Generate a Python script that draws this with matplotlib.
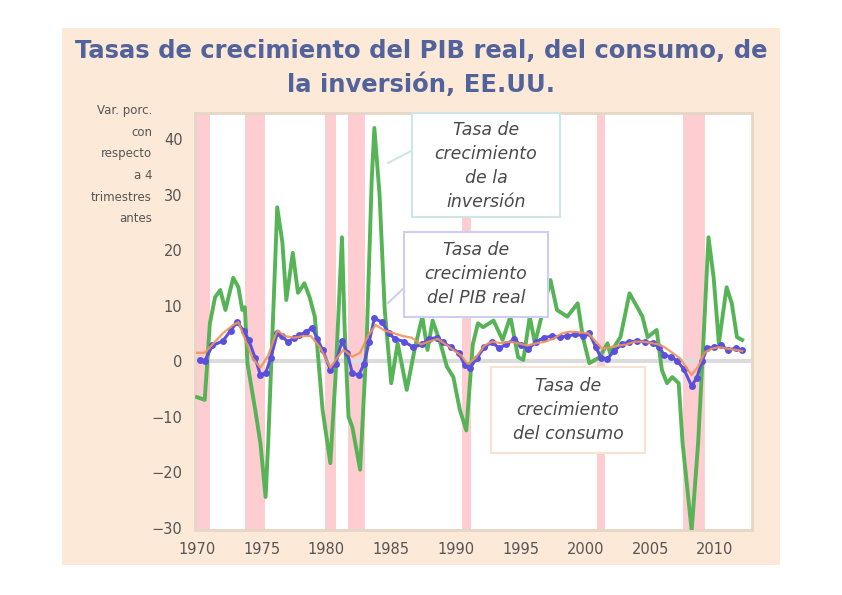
import matplotlib
matplotlib.use("Agg")
import matplotlib.pyplot as plt
from matplotlib.patches import Rectangle

# ---------------- data ----------------
recessions = [(1969.85, 1971.0), (1973.7, 1975.25), (1979.9, 1980.7),
              (1981.65, 1983.0), (1990.45, 1991.2), (2000.9, 2001.5),
              (2007.5, 2009.2)]

inv_years = [1970.0, 1970.6, 1971.0, 1971.4, 1971.8, 1972.2, 1972.8, 1973.2, 1973.5, 1973.7,
             1973.9, 1974.5, 1974.9, 1975.3, 1975.5, 1975.9, 1976.2, 1976.6, 1976.9, 1977.4,
             1977.8, 1978.3, 1978.7, 1979.1, 1979.7, 1980.3, 1980.7, 1981.2, 1981.4, 1981.7,
             1982.0, 1982.6, 1983.1, 1983.5, 1983.7, 1984.1, 1984.5, 1985.0, 1985.5, 1986.2,
             1986.8, 1987.4, 1987.8, 1988.2, 1988.8, 1989.3, 1989.8, 1990.3, 1990.8, 1991.3,
             1991.7, 1992.1, 1992.9, 1993.6, 1994.2, 1994.8, 1995.2, 1995.7, 1996.1, 1997.3,
             1997.8, 1998.6, 1999.4, 1999.8, 2000.3, 2001.1, 2001.7, 2001.9, 2002.7, 2003.4,
             2004.0, 2004.4, 2004.8, 2005.5, 2005.9, 2006.3, 2006.7, 2007.2, 2007.5, 2008.2,
             2008.7, 2009.1, 2009.5, 2009.9, 2010.3, 2010.9, 2011.3, 2011.7, 2012.1]
inv_vals = [-6.5, -7, 6.8, 11.5, 12.8, 9.2, 15, 13.3, 9.2, 9.7,
            -0.4, -8.8, -14.8, -24.5, -14.8, 9.2, 27.7, 21.3, 11, 19.5,
            12.3, 14, 11.5, 8, -8.8, -18.4, -2.9, 22.3, 6.1, -10,
            -11.9, -19.6, 3.2, 33, 42, 30, 9.2, -4, 3.2, -5.2,
            2, 8, 2, 7.3, 3.2, -1, -2.9, -8.8, -12.5, 3,
            6.8, 6.1, 7.3, 3.8, 8, 0.7, 0.2, 8, 3.2, 14.6,
            9.2, 8, 10.4, 4.3, -0.4, 0.7, 3.2, 1.4, 4.3, 12.2,
            9.7, 8, 4.3, 5.6, -1.6, -4, -2.9, -4, -14.8, -30.5,
            -14.8, 3.2, 22.3, 15, 3.2, 13.3, 10.4, 4.3, 3.8]

gdp_years = [1970.2, 1970.6, 1971.2, 1972.0, 1972.6, 1973.1, 1973.6, 1974.0, 1974.5, 1974.9,
             1975.3, 1975.7, 1976.2, 1976.6, 1977.0, 1977.5, 1977.9, 1978.4, 1978.9, 1979.3,
             1979.7, 1980.3, 1980.7, 1981.2, 1981.6, 1982.0, 1982.5, 1982.9, 1983.3, 1983.7,
             1984.3, 1984.8, 1985.3, 1986.0, 1986.7, 1987.4, 1987.9, 1988.5, 1989.0, 1989.6,
             1990.2, 1990.7, 1991.1, 1991.6, 1992.2, 1992.8, 1993.3, 1993.9, 1994.5, 1995.0,
             1995.6, 1996.2, 1996.8, 1997.4, 1998.0, 1998.6, 1999.2, 1999.8, 2000.3, 2000.8,
             2001.2, 2001.7, 2002.2, 2002.8, 2003.4, 2004.0, 2004.6, 2005.2, 2005.7, 2006.1,
             2006.6, 2007.1, 2007.6, 2008.2, 2008.6, 2009.0, 2009.4, 2009.9, 2010.5, 2011.0,
             2011.6, 2012.1]
gdp_vals = [0.2, 0, 2.8, 3.6, 5.5, 7, 5.5, 3.8, 0.5, -2.5,
            -2.2, 0.5, 5, 4.5, 3.4, 4.2, 4.7, 5.2, 6, 4,
            2, -1.6, -0.5, 3.6, 1.5, -2.2, -2.5, -0.5, 3.5, 7.7,
            7, 5, 4, 3.5, 2.5, 3, 4, 4.2, 3.4, 2.5,
            1.5, -0.8, -1.2, 0.5, 2.5, 3.5, 2.3, 3, 4, 2.8,
            2.2, 3.5, 4.2, 4.5, 4.3, 4.5, 4.8, 4.6, 5, 2.5,
            0.6, 0.4, 1.8, 3, 3.5, 3.6, 3.5, 3.2, 2.5, 1,
            0.8, 0, -1.5, -4.5, -3, 0, 2.3, 2.5, 2.8, 2,
            2.3, 2]

con_years = [1970.0, 1970.6, 1971.2, 1972.0, 1972.8, 1973.2, 1973.7, 1974.3, 1974.9, 1975.5,
             1976.2, 1976.8, 1977.5, 1978.2, 1978.8, 1979.5, 1980.3, 1980.8, 1981.3, 1982.0,
             1982.6, 1983.2, 1983.8, 1984.5, 1985.2, 1985.9, 1986.6, 1987.3, 1987.9, 1988.6,
             1989.2, 1989.8, 1990.4, 1990.9, 1991.5, 1992.2, 1992.8, 1993.5, 1994.2, 1994.8,
             1995.5, 1996.2, 1996.9, 1997.5, 1998.2, 1998.8, 1999.5, 2000.2, 2000.8, 2001.3,
             2001.9, 2002.6, 2003.2, 2003.8, 2004.4, 2005.0, 2005.6, 2006.1, 2006.7, 2007.3,
             2007.8, 2008.2, 2008.7, 2009.2, 2009.7, 2010.3, 2011.0, 2011.6, 2012.1]
con_vals = [1.5, 1.5, 3, 5, 6.5, 7, 4, 0.5, -1.2, 1,
            5.5, 4.5, 4.2, 4.5, 4.5, 2.5, -1.2, 0.5, 2, 0.8,
            1.5, 4.5, 6.5, 5.5, 5, 4.5, 4.2, 3, 3.5, 4,
            3, 2, 1, -0.5, 0.5, 2.8, 3.5, 3.2, 3.5, 3.2,
            2.8, 3.2, 3.5, 4, 5, 5.3, 5.2, 5, 3.5, 2.2,
            2.5, 2.8, 3, 3.5, 3.5, 3.3, 3, 2.5, 1.5, 0.5,
            -1.2, -2.5, -1, 1.5, 2.2, 2.5, 2.2, 2, 1.8]

x_ticks = [1970, 1975, 1980, 1985, 1990, 1995, 2000, 2005, 2010]
y_ticks = [-30, -20, -10, 0, 10, 20, 30, 40]

title_text = "Tasas de crecimiento del PIB real, del consumo, de\nla inversión, EE.UU."
ylabel_text = "Var. porc.\ncon\nrespecto\na 4\ntrimestres\nantes"
lbl_inv = "Tasa de\ncrecimiento\nde la\ninversión"
lbl_gdp = "Tasa de\ncrecimiento\ndel PIB real"
lbl_con = "Tasa de\ncrecimiento\ndel consumo"

# ---------------- figure ----------------
W, H = 842, 595
fig = plt.figure(figsize=(W / 100, H / 100), dpi=100)
fig.patch.set_facecolor("white")

def fx(x):
    return x / W

def fy(y):
    return 1 - y / H

# peach panel (behind everything)
fig.patches.append(Rectangle((fx(62), fy(565)), fx(780) - fx(62), fy(28) - fy(565),
                             transform=fig.transFigure, facecolor="#fde9d7",
                             edgecolor="none", zorder=-10))

ax = fig.add_axes([fx(195), fy(530), fx(752) - fx(195), fy(113) - fy(530)])
ax.set_zorder(1)
ax.set_facecolor("white")
for s in ax.spines.values():
    s.set_color("#e6d6c6")
    s.set_linewidth(2)

for a, b in recessions:
    ax.axvspan(a, b, color="#fdcdd1", lw=0, zorder=1)

ax.axhline(0, color="#dcdcdc", lw=3, zorder=2)

ax.plot(inv_years, inv_vals, color="#56b456", lw=2.8, zorder=3,
        solid_joinstyle="round")
ax.plot(gdp_years, gdp_vals, color="#5a50dc", lw=2.2, marker="o", ms=5,
        markeredgewidth=0, zorder=4)
ax.plot(con_years, con_vals, color="#f0935a", lw=1.6, zorder=5, alpha=0.9)

ax.set_xlim(1969.85, 2012.86)
ax.set_ylim(-30.45, 44.7)
ax.set_xticks(x_ticks)
ax.set_yticks(y_ticks)
ax.tick_params(length=0, labelsize=10.5, colors="#555555", pad=9)

# title
fig.text(fx(421), fy(68), title_text, ha="center", va="center", fontsize=17.5,
         fontweight="bold", color="#52629a", linespacing=1.5, zorder=20)

# y label
fig.text(fx(152), fy(104), ylabel_text, ha="right", va="top", fontsize=8.5,
         color="#555555", linespacing=1.87, zorder=20)

# annotation boxes (drawn above the axes)
def box(x0, y0, x1, y1, ec, text, ty):
    fig.patches.append(Rectangle((fx(x0), fy(y1)), fx(x1) - fx(x0), fy(y0) - fy(y1),
                                 transform=fig.transFigure, facecolor="white",
                                 edgecolor=ec, lw=1.5, zorder=10))
    fig.text(fx((x0 + x1) / 2), fy(ty), text, ha="center", va="center",
             fontsize=12.5, style="italic", color="#4a4a4a", linespacing=1.42,
             zorder=11)

box(412, 113, 560, 217, "#cfe6e6", lbl_inv, 166)
box(404, 232, 548, 317, "#cfcdf2", lbl_gdp, 274)
box(491, 367, 645, 453, "#f5e3d3", lbl_con, 410)

fig.lines.append(plt.Line2D([fx(413), fx(388)], [fy(150), fy(163)],
                            transform=fig.transFigure, color="#cfe6e6", lw=1.5,
                            zorder=10))
fig.lines.append(plt.Line2D([fx(405), fx(388)], [fy(287), fy(303)],
                            transform=fig.transFigure, color="#cfcdf2", lw=1.5,
                            zorder=10))

fig.savefig("out.png", dpi=100, facecolor="white")
